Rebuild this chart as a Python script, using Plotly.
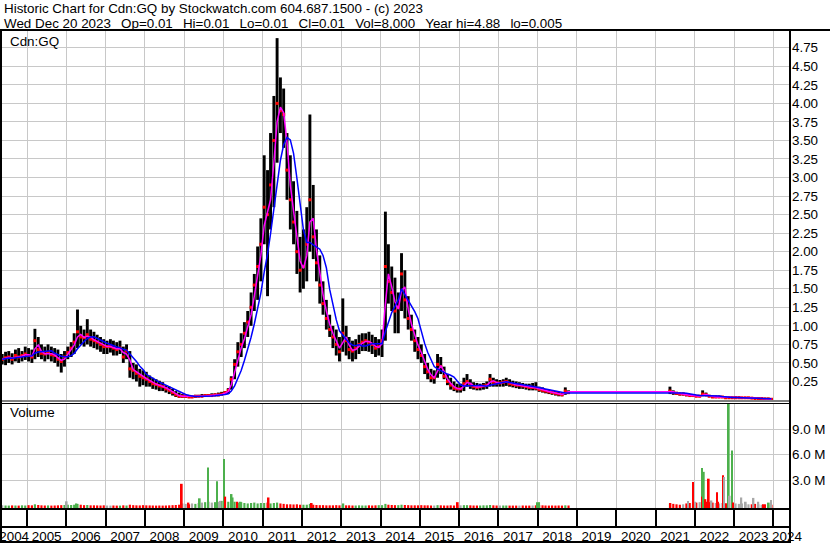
import plotly.graph_objects as go
import pandas as pd

W, H = 830, 543


def px(x):
    return x / W


def py(y):
    return 1 - y / H


# monthly bars: May 2004 - Oct 2018, then May 2021 - Dec 2023
month_starts = list(pd.date_range("2004-05-01", "2018-10-01", freq="MS")) + \
    list(pd.date_range("2021-05-01", "2023-12-01", freq="MS"))
dates = [d + pd.Timedelta(days=14) for d in month_starts]

hi = [
    .62, .65, .66, .63, .68, .70, .66, .72,                              # 2004
    .70, .68, .96, .85, .75, .72, .75, .72, .70, .68, .62, .66,          # 2005
    .72, .78, .90, 1.22, 1.00, .95, 1.09, .95, .92, .88, .85, .82,       # 2006
    .80, .82, .80, .78, .80, .72, .75, .66, .50, .48, .42, .40,          # 2007
    .38, .33, .30, .28, .26, .24, .20, .18, .15, .12, .10, .08,          # 2008
    .07, .07, .06, .07, .07, .08, .08, .08, .09, .09, .10, .11,          # 2009
    .12, .16, .32, .55, .78, .90, 1.05, 1.20, 1.45, 1.70, 2.07, 2.45,    # 2010
    3.30, 3.10, 3.60, 4.10, 4.88, 4.35, 4.20, 3.60, 3.30, 2.95, 2.55, 2.20,  # 2011
    2.30, 2.60, 3.85, 2.90, 2.30, 1.95, 1.60, 1.35, 1.15, 1.00, .95, .85,    # 2012
    1.37, 1.00, .85, .80, .82, .88, .90, .90, .92, .88, .85, .82,        # 2013
    .95, 2.54, 2.10, 1.80, 1.65, 1.45, 1.98, 1.75, 1.40, 1.15, .95, .85, # 2014
    .75, .62, .50, .42, .40, .62, .58, .45, .35, .30, .25, .22,          # 2015
    .22, .30, .35, .28, .24, .23, .22, .23, .25, .35, .30, .28,          # 2016
    .27, .28, .30, .28, .26, .25, .24, .23, .22, .22, .23, .24,          # 2017
    .18, .17, .15, .14, .13, .12, .11, .10, .17, .13,                    # 2018
    .18, .13, .11, .10, .10, .09, .08, .08,                              # 2021
    .07, .07, .13, .10, .07, .06, .06, .06, .05, .05, .05, .05,          # 2022
    .05, .05, .04, .04, .04, .04, .04, .035, .03, .03, .03, .02,         # 2023
]
lo = [
    .48, .47, .50, .48, .52, .50, .52, .54,
    .52, .50, .55, .58, .55, .52, .55, .52, .50, .45, .37, .45,
    .55, .58, .62, .70, .75, .72, .75, .72, .70, .68, .65, .62,
    .62, .64, .60, .60, .62, .50, .55, .30, .28, .25, .18, .20,
    .18, .18, .15, .14, .12, .12, .10, .08, .06, .04, .03, .03,
    .03, .03, .03, .03, .04, .04, .04, .04, .05, .05, .05, .06,
    .07, .08, .14, .28, .45, .58, .70, .85, 1.00, 1.20, 1.35, 1.60,
    2.10, 1.40, 2.30, 2.60, 3.20, 3.60, 3.40, 2.70, 2.30, 2.10, 1.70, 1.45,
    1.50, 1.60, 2.00, 1.90, 1.60, 1.30, 1.15, .95, .85, .70, .60, .52,
    .65, .60, .55, .52, .55, .62, .66, .66, .65, .62, .58, .60,
    .58, .80, 1.30, 1.20, .90, .90, 1.20, 1.10, .95, .80, .65, .55,
    .50, .35, .28, .24, .22, .30, .35, .28, .20, .14, .12, .10,
    .10, .12, .18, .15, .14, .13, .13, .14, .15, .18, .18, .18,
    .18, .18, .19, .18, .17, .16, .15, .15, .14, .13, .13, .13,
    .11, .10, .09, .08, .07, .06, .05, .05, .07, .08,
    .08, .07, .07, .06, .06, .05, .05, .04,
    .04, .04, .05, .05, .04, .03, .03, .03, .03, .02, .02, .02,
    .02, .02, .02, .02, .02, .015, .015, .01, .01, .01, .01, .01,
]
cl = [
    .55, .57, .58, .55, .60, .58, .60, .62,
    .60, .58, .80, .68, .63, .62, .64, .61, .60, .55, .52, .58,
    .64, .70, .78, .92, .85, .84, .88, .82, .80, .78, .75, .72,
    .72, .72, .70, .68, .70, .58, .66, .42, .40, .36, .32, .30,
    .28, .25, .22, .21, .19, .18, .15, .13, .10, .07, .05, .05,
    .05, .04, .04, .05, .05, .05, .06, .06, .06, .07, .07, .08,
    .10, .13, .28, .48, .65, .75, .90, 1.05, 1.25, 1.55, 1.80, 2.10,
    2.60, 2.50, 2.90, 3.50, 4.00, 3.90, 3.85, 3.10, 2.70, 2.40, 2.00, 1.75,
    1.80, 2.10, 2.70, 2.20, 1.85, 1.55, 1.30, 1.10, .95, .85, .75, .65,
    .90, .80, .68, .66, .70, .75, .78, .80, .78, .75, .70, .72,
    .80, 1.80, 1.60, 1.45, 1.20, 1.25, 1.70, 1.35, 1.10, .95, .80, .68,
    .60, .45, .38, .30, .30, .48, .45, .32, .25, .20, .16, .15,
    .15, .22, .25, .20, .18, .17, .18, .19, .20, .28, .24, .23,
    .23, .24, .25, .22, .21, .20, .20, .19, .18, .17, .17, .16,
    .14, .13, .12, .11, .10, .09, .08, .07, .12, .10,
    .12, .10, .09, .08, .08, .07, .06, .06,
    .05, .05, .08, .07, .05, .04, .04, .04, .04, .03, .03, .03,
    .03, .03, .03, .03, .03, .025, .02, .02, .02, .015, .015, .01,
]
# typical volume per month, millions of shares
vol = [
    .08, .06, .05, .07, .06, .05, .08, .06,
    .10, .08, .20, .12, .08, .06, .07, .05, .06, .08, .10, .12,
    .15, .12, .15, .25, .15, .10, .12, .08, .08, .07, .06, .08,
    .06, .05, .06, .05, .05, .08, .06, .15, .10, .08, .07, .10,
    .08, .07, .06, .05, .06, .05, .06, .08, .10, .12, .15, .30,
    .25, .20, .30, .25, .35, .40, .45, .50, .40, .45, .50, .60,
    .60, .50, .70, .50, .40, .45, .35, .30, .35, .40, .30, .35,
    .35, .40, .30, .35, .40, .30, .25, .20, .20, .18, .20, .15,
    .15, .15, .25, .15, .12, .10, .10, .08, .08, .08, .10, .08,
    .12, .08, .08, .06, .06, .08, .06, .06, .08, .06, .08, .10,
    .10, .25, .15, .12, .10, .10, .15, .12, .10, .08, .08, .08,
    .10, .08, .08, .06, .06, .10, .08, .06, .06, .08, .06, .10,
    .08, .10, .10, .08, .06, .06, .06, .08, .08, .12, .08, .06,
    .06, .06, .06, .05, .05, .05, .05, .06, .05, .05, .06, .08,
    .10, .08, .06, .05, .06, .05, .06, .05, .08, .06,
    .30, .25, .20, .15, .20, .30, .35, .40,
    .40, .45, .60, .50, .45, .40, .35, .30, .35, .30, .40, .35,
    .30, .25, .30, .25, .20, .20, .25, .20, .15, .20, .15, .15,
]

# single heavy-volume days
spike_dates = ["2006-01-05", "2006-04-05", "2008-12-10", "2009-02-10", "2009-05-26", "2009-08-10",
               "2009-11-02", "2009-12-05", "2010-01-06", "2010-01-18", "2010-03-18", "2010-03-28",
               "2010-05-10", "2010-06-10", "2011-02-25", "2012-04-01", "2013-01-20", "2015-12-20",
               "2017-12-25", "2018-01-15", "2021-05-20", "2021-10-30", "2021-12-15", "2022-01-05",
               "2022-03-08", "2022-03-15", "2022-03-26", "2022-04-10", "2022-05-11", "2022-06-05",
               "2022-07-26", "2022-08-05", "2022-09-20", "2022-09-29", "2022-10-20", "2022-11-13",
               "2022-11-22", "2022-12-12", "2022-12-22", "2023-03-10", "2023-04-20", "2023-07-01",
               "2023-08-15", "2023-10-01", "2023-11-20", "2023-12-10"]
spike_vol = [0.55, 0.3, 2.6, 0.4, 0.9, 4.5,
             2.9, 0.6, 5.5, 1.1, 1.4, 1.0,
             0.5, 0.5, 1.0, 0.35, 0.3, 0.45,
             0.45, 0.45, 0.35, 0.6, 2.8, 0.5,
             4.45, 1.1, 4.0, 0.8, 3.2, 0.65,
             1.6, 0.5, 3.6, 3.4, 0.3, 12.5,
             1.2, 6.5, 0.4, 1.0, 0.5, 0.95,
             0.5, 0.2, 0.4, 0.7]
spike_dir = ["n", "u", "d", "d", "u", "u",
             "u", "n", "u", "d", "u", "u",
             "d", "u", "d", "d", "u", "d",
             "u", "u", "d", "n", "d", "n",
             "u", "d", "u", "d", "d", "n",
             "d", "d", "d", "n", "d", "u",
             "n", "u", "d", "n", "n", "n",
             "n", "d", "u", "n"]

year_starts = [f"{y}-01-01" for y in range(2005, 2025)]
year_labels = [str(y) for y in range(2004, 2025)]
year_label_pos = ["2004-09-03"] + [f"{y}-07-02" for y in range(2005, 2024)] + ["2024-05-07"]
price_ticks = [0.25 * i for i in range(1, 20)]
vol_ticks = [3, 6, 9]
vol_ticktext = ["3.0 M", "6.0 M", "9.0 M"]

df = pd.DataFrame({"date": dates, "hi": hi, "lo": lo, "cl": cl, "vol": vol})
df["ma_short"] = df["cl"].rolling(2, min_periods=1).mean()
df["ma_long"] = df["cl"].rolling(6, min_periods=1).mean()
chg = df["cl"].diff().fillna(0)

GREEN, RED, GRAY = "#4cb04c", "#ff0000", "#a8a8a8"
dir_color = {"u": GREEN, "d": RED, "n": GRAY}
base_colors = [GREEN if c > 0 else (RED if c < 0 else GRAY) for c in chg]

VOL_FLOOR = -0.35
DAY = 86400000
XR = ["2004-05-13", "2024-05-26"]
FONT = "Arial, Liberation Sans, sans-serif"

fig = go.Figure()
# high-low bars
fig.add_bar(x=df["date"], y=df["hi"] - df["lo"], base=df["lo"], width=27 * DAY,
            marker=dict(color="black", line=dict(width=0)), xaxis="x", yaxis="y")
# closes
fig.add_scatter(x=df["date"], y=df["cl"], mode="markers", xaxis="x", yaxis="y",
                marker=dict(symbol="square", size=3, color=RED, line=dict(width=0)))
# moving averages
fig.add_scatter(x=df["date"], y=df["ma_short"], mode="lines", line=dict(color="#ff00ff", width=1.5),
                xaxis="x", yaxis="y")
fig.add_scatter(x=df["date"], y=df["ma_long"], mode="lines", line=dict(color="#0000ff", width=1.5),
                xaxis="x", yaxis="y")
# volume
fig.add_bar(x=df["date"], y=[v - VOL_FLOOR for v in df["vol"]], base=VOL_FLOOR, width=20 * DAY,
            marker=dict(color=base_colors, line=dict(width=0)), xaxis="x2", yaxis="y2")
fig.add_bar(x=spike_dates, y=[v - VOL_FLOOR for v in spike_vol], base=VOL_FLOOR, width=16 * DAY,
            marker=dict(color=[dir_color[d] for d in spike_dir], line=dict(width=0)),
            xaxis="x2", yaxis="y2")

grid = "#c8c8c8"
fig.update_layout(
    width=W, height=H, autosize=False, margin=dict(l=0, r=0, t=0, b=0, autoexpand=False),
    paper_bgcolor="white", plot_bgcolor="white", showlegend=False, barmode="overlay",
    font=dict(family=FONT, size=13.4, color="black"),
    xaxis=dict(domain=[px(2), px(789)], anchor="y", type="date", range=XR, matches="x2",
               showticklabels=False, showgrid=False, ticks="", zeroline=False,
               minor=dict(tickmode="array", tickvals=year_starts, showgrid=True, gridcolor=grid,
                          gridwidth=1, ticks="")),
    yaxis=dict(domain=[py(400), py(31)], anchor="x", side="right", range=[0, 4.976],
               tickmode="array", tickvals=price_ticks, tickformat=".2f", showgrid=True,
               gridcolor=grid, gridwidth=1, zeroline=False, ticks="", ticklabelstandoff=2,
               tickfont=dict(size=13.4, color="black")),
    xaxis2=dict(domain=[px(2), px(789)], anchor="y2", type="date", range=XR,
                tickmode="array", tickvals=year_label_pos, ticktext=year_labels, ticks="",
                showgrid=False, zeroline=False, ticklabelstandoff=18, ticklabeloverflow="allow",
                tickfont=dict(size=13.4, color="black"),
                minor=dict(tickmode="array", tickvals=year_starts, showgrid=True, gridcolor=grid,
                           gridwidth=1, ticks="outside", ticklen=18, tickwidth=2, tickcolor="black")),
    yaxis2=dict(domain=[py(509), py(403)], anchor="x2", side="right", range=[VOL_FLOOR, 12.06],
                tickmode="array", tickvals=vol_ticks, ticktext=vol_ticktext, showgrid=True,
                gridcolor=grid, gridwidth=1, zeroline=False, ticks="", ticklabelstandoff=2,
                tickfont=dict(size=13.4, color="black")),
)

# frame lines
frame = [
    (0, 30, W, 30, 2), (1, 30, 1, H, 2), (790, 30, 790, H, 2),
    (0, 401, 790, 401, 1), (0, 403.5, 790, 403.5, 1),
    (0, 509, 790, 509, 2), (0, 527, 790, 527, 2), (0, 542, 790, 542, 2),
]
for x0, y0, x1, y1, w in frame:
    fig.add_shape(type="line", xref="paper", yref="paper", x0=px(x0), y0=py(y0), x1=px(x1), y1=py(y1),
                  line=dict(color="black", width=w), layer="above")

nb = "\u00a0\u00a0\u2009"
header1 = "Historic Chart for Cdn:GQ by Stockwatch.com 604.687.1500 - (c) 2023"
header2 = nb.join(["Wed Dec 20 2023", "Op=0.01", "Hi=0.01", "Lo=0.01", "Cl=0.01", "Vol=8,000",
                   "Year hi=4.88", "lo=0.005"])
for txt, x, y in [(header1, 2, 8.5), (header2, 2, 23), ("Cdn:GQ", 8, 41), ("Volume", 8, 413)]:
    fig.add_annotation(text=txt, xref="paper", yref="paper", x=px(x), y=py(y), xanchor="left",
                       yanchor="middle", showarrow=False, font=dict(size=13.4, color="black", family=FONT))

fix_page = ("document.body.style.margin='0';document.body.style.overflow='hidden';"
            "var gd=document.getElementById('{plot_id}');gd.style.width='830px';gd.style.height='543px';"
            "Plotly.relayout(gd,{width:830,height:543});")
fig.write_html("out.html", config={"displayModeBar": False, "responsive": False}, post_script=fix_page)
